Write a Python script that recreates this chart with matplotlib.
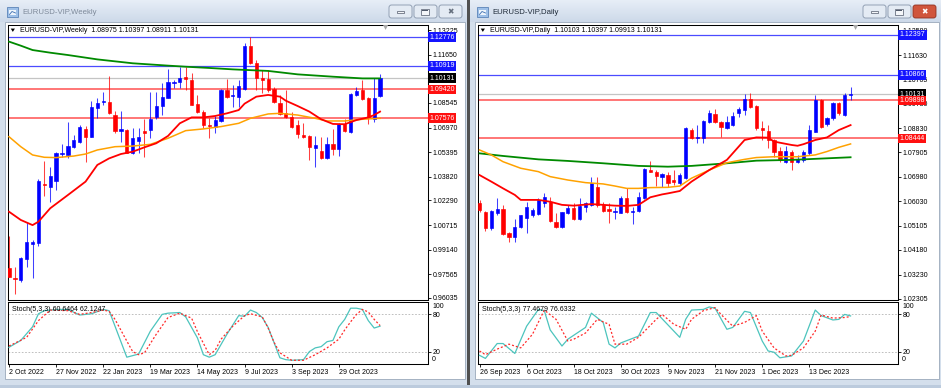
import numpy as np
import matplotlib
matplotlib.use('Agg')
import matplotlib.pyplot as plt
from matplotlib.patches import Rectangle, FancyBboxPatch, Polygon
from matplotlib.colors import to_rgb

plt.rcParams['font.family'] = ['Liberation Sans', 'DejaVu Sans']

# ---------------------------------------------------------------- data ----
wk_title = "EURUSD-VIP,Weekly"
wk_header = "EURUSD-VIP,Weekly  1.08975 1.10397 1.08911 1.10131"
wk_stoch_label = "Stoch(5,3,3) 60.6464 62.1247"
wk_open = [0.9797,0.9734,0.9719,0.9855,0.9950,0.9958,1.0336,1.0318,1.0354,1.0525,
           1.0521,1.0574,1.0606,1.0688,1.0634,1.0820,1.0859,1.0863,1.0777,1.0674,
           1.0681,1.0536,1.0613,1.0674,1.0681,1.0762,1.0835,1.0888,1.0980,1.0987,
           1.1019,1.1002,1.0848,1.0799,1.0713,1.0703,1.0741,1.0938,1.0899,1.0895,
           1.0942,1.1220,1.1113,1.1012,1.1006,1.0942,1.0857,1.0792,1.0762,1.0713,
           1.0649,1.0643,1.0563,1.0548,1.0499,1.0589,1.0559,1.0718,1.0670,1.0906,
           1.0938,1.0884,1.0750,1.08975]
wk_high = [0.9999,0.9800,0.9869,1.0090,0.9976,1.0364,1.0481,1.0446,1.0542,1.0591,
           1.0730,1.0649,1.0713,1.0707,1.0867,1.0884,1.0927,1.1030,1.0803,1.0803,
           1.0685,1.0692,1.0692,1.0752,1.0927,1.0927,1.0980,1.1072,1.1002,1.1087,
           1.1083,1.1045,1.0906,1.0809,1.0756,1.0771,1.0942,1.1006,1.0970,1.1002,
           1.1237,1.1276,1.1130,1.1066,1.1066,1.0959,1.0906,1.0938,1.0799,1.0745,
           1.0728,1.0649,1.0643,1.0634,1.0638,1.0685,1.0724,1.0750,1.0916,1.0959,
           1.1002,1.0895,1.1012,1.10397]
wk_low = [0.9736,0.9632,0.9708,0.9805,0.9730,0.9935,1.0260,1.0221,1.0296,1.0510,
          1.0499,1.0563,1.0600,1.0478,1.0634,1.0756,1.0841,1.0784,1.0660,1.0606,
          1.0532,1.0527,1.0532,1.0510,1.0628,1.0750,1.0777,1.0884,1.0948,1.0948,
          1.0938,1.0841,1.0788,1.0692,1.0628,1.0660,1.0735,1.0884,1.0831,1.0831,
          1.0938,1.1104,1.0938,1.0916,1.0927,1.0852,1.0777,1.0756,1.0692,1.0628,
          1.0628,1.0489,1.0446,1.0493,1.0493,1.0521,1.0514,1.0670,1.0660,1.0899,
          1.0874,1.0720,1.0735,1.08911]
wk_close = [0.9741,0.9723,0.9858,0.9965,0.9962,1.0354,1.0326,1.0386,1.0536,1.0532,
            1.0581,1.0617,1.0703,1.0638,1.0831,1.0852,1.0867,1.0788,1.0674,1.0688,
            1.0536,1.0632,1.0638,1.0660,1.0752,1.0835,1.0891,1.0991,1.0991,1.1012,
            1.1010,1.0841,1.0799,1.0713,1.0705,1.0745,1.0938,1.0895,1.0906,1.0963,
            1.1220,1.1113,1.1012,1.1002,1.0938,1.0863,1.0784,1.0767,1.0698,1.0655,
            1.0638,1.0570,1.0585,1.0499,1.0591,1.0559,1.0720,1.0677,1.0910,1.0931,
            1.0878,1.0762,1.0884,1.10131]
wk_ma_red_i = [0,2,4,5,7,10,13,15,17,19,21,23,25,27,29,31,33,35,37,39,40,42,44,46,47,49,51,53,55,57,59,61,62,63]
wk_ma_red_v = [1.0157,1.0104,1.0071,1.0093,1.0179,1.0264,1.0350,1.0457,1.0499,1.0527,1.0542,1.0570,
               1.0596,1.0643,1.0724,1.0762,1.0762,1.0771,1.0788,1.0809,1.0850,1.0895,1.0906,1.0895,
               1.0869,1.0835,1.0799,1.0750,1.0720,1.0718,1.0745,1.0762,1.0777,1.0799]
wk_ma_orange_i = [0,2,4,6,8,11,13,15,18,21,24,27,30,33,36,39,41,44,46,49,52,54,57,60,63]
wk_ma_orange_v = [1.0638,1.0574,1.0521,1.0506,1.0504,1.0514,1.0527,1.0553,1.0574,1.0578,1.0589,1.0628,
                  1.0677,1.0688,1.0703,1.0724,1.0756,1.0784,1.0788,1.0777,1.0756,1.0739,1.0739,1.0750,1.0756]
wk_ma_green_i = [0,2,4,7,10,15,21,27,30,34,38,44,49,55,60,63]
wk_ma_green_v = [1.1248,1.1222,1.1194,1.1177,1.1162,1.1134,1.1109,1.1094,1.1087,1.1079,1.1070,1.1060,
                 1.1038,1.1023,1.1012,1.1012]
wk_k_i = [0,2,4,5,6,8,10,12,14,16,17,20,22,24,26,27,29,30,32,33,34,35,37,39,40,41,42,43,44,46,47,48,50,51,52,53,54,55,56,57,58,59,60,61,62,63]
wk_k_v = [27,38,60,81,86,88,88,79,81,88,86,11,16,53,80,82,83,76,42,15,11,15,48,78,77,87,83,75,59,10,7,6,7,20,26,28,36,38,60,72,90,90,88,70,58,61]
wk_d_i = [0,3,5,7,10,12,14,16,17,18,20,21,22,23,25,27,29,31,32,34,35,36,38,40,41,43,44,45,46,48,50,52,54,55,56,57,58,59,60,61,62,63]
wk_d_v = [29,43,70,87,86,80,83,87,85,72,37,20,15,18,48,75,82,74,52,15,22,40,61,78,81,76,58,35,18,6,6,15,26,33,40,55,68,80,88,84,72,62]
wk_levels = [(1.12776, 'blue'), (1.10919, 'blue'), (1.09420, 'red'), (1.07576, 'red')]
wk_price = 1.10131
wk_yticks = [1.13225,1.11650,1.08545,1.06970,1.05395,1.03820,1.02290,1.00715,0.99140,0.97565,0.96035]
wk_xtick_i = [0,8,16,24,32,40,48,56]
wk_xtick_lab = ["2 Oct 2022","27 Nov 2022","22 Jan 2023","19 Mar 2023","14 May 2023","9 Jul 2023","3 Sep 2023","29 Oct 2023"]

d_title = "EURUSD-VIP,Daily"
d_header = "EURUSD-VIP,Daily  1.10103 1.10397 1.09913 1.10131"
d_stoch_label = "Stoch(5,3,3) 77.4679 76.6332"
d_open = [1.0596,1.0564,1.0500,1.0560,1.0573,1.0481,1.0466,1.0507,1.0539,1.0551,
          1.0555,1.0598,1.0602,1.0526,1.0507,1.0560,1.0577,1.0535,1.0583,1.0590,
          1.0660,1.0590,1.0573,1.0564,1.0560,1.0615,1.0564,1.0568,1.0615,1.0723,
          1.0714,1.0695,1.0704,1.0685,1.0672,1.0692,1.0876,1.0844,1.0844,1.0908,
          1.0938,1.0908,1.0883,1.0895,1.0940,1.0953,1.0994,1.0968,1.0885,1.0873,
          1.0838,1.0797,1.0755,1.0794,1.0755,1.0762,1.0787,1.0870,1.0991,1.08975,
          1.0921,1.0981,1.0934,1.10103]
d_high = [1.0609,1.0568,1.0570,1.0615,1.0588,1.0488,1.0536,1.0552,1.0602,1.0577,
          1.0615,1.0637,1.0621,1.0560,1.0564,1.0590,1.0596,1.0615,1.0602,1.0695,
          1.0698,1.0602,1.0596,1.0583,1.0624,1.0653,1.0583,1.0641,1.0730,1.0759,
          1.0723,1.0713,1.0717,1.0723,1.0711,1.0889,1.0883,1.0895,1.0915,1.0953,
          1.0955,1.0910,1.0930,1.0946,1.0966,1.1013,1.1017,1.0972,1.0911,1.0895,
          1.0841,1.0813,1.0815,1.0800,1.0781,1.0800,1.0895,1.1010,1.0994,1.0927,
          1.0985,1.0983,1.1017,1.10397]
d_low = [1.0564,1.0490,1.0494,1.0551,1.0475,1.0449,1.0449,1.0500,1.0484,1.0545,
         1.0551,1.0583,1.0525,1.0500,1.0500,1.0555,1.0532,1.0532,1.0564,1.0587,
         1.0583,1.0564,1.0522,1.0535,1.0558,1.0558,1.0516,1.0564,1.0611,1.0714,
         1.0662,1.0660,1.0660,1.0666,1.0666,1.0689,1.0841,1.0825,1.0825,1.0902,
         1.0902,1.0851,1.0880,1.0893,1.0927,1.0934,1.0959,1.0876,1.0838,1.0806,
         1.0774,1.0755,1.0749,1.0723,1.0749,1.0755,1.0781,1.0867,1.0883,1.0892,
         1.0915,1.0934,1.0930,1.09913]
d_close = [1.0570,1.0503,1.0567,1.0573,1.0479,1.0468,1.0507,1.0551,1.0583,1.0570,
           1.0609,1.0619,1.0528,1.0507,1.0562,1.0577,1.0535,1.0587,1.0596,1.0672,
           1.0590,1.0568,1.0568,1.0567,1.0618,1.0564,1.0568,1.0621,1.0727,1.0717,
           1.0700,1.0708,1.0672,1.0679,1.0704,1.0883,1.0844,1.0851,1.0911,1.0940,
           1.0908,1.0889,1.0908,1.0930,1.0955,1.0994,1.0966,1.0883,1.0876,1.0838,
           1.0794,1.0762,1.0796,1.0755,1.0767,1.0794,1.0876,1.0991,1.0889,1.0921,
           1.0981,1.0940,1.1010,1.10131]
d_ma_red_i = [0,2,4,6,7,10,12,14,16,19,21,23,25,27,29,31,32,34,36,39,42,45,47,49,50,53,54,55,57,59,61,63]
d_ma_red_v = [1.0704,1.0679,1.0653,1.0628,1.0609,1.0609,1.0602,1.0590,1.0587,1.0593,1.0590,1.0587,
              1.0586,1.0590,1.0619,1.0630,1.0634,1.0643,1.0679,1.0723,1.0762,1.0838,1.0848,1.0847,
              1.0832,1.0819,1.0816,1.0822,1.0838,1.0848,1.0876,1.0895]
d_ma_orange_i = [0,2,4,7,10,12,15,18,21,23,25,27,29,32,34,36,39,42,45,47,50,52,54,57,59,61,63]
d_ma_orange_v = [1.0800,1.0781,1.0755,1.0730,1.0717,1.0698,1.0685,1.0675,1.0670,1.0662,1.0653,1.0653,
                 1.0656,1.0657,1.0662,1.0692,1.0723,1.0751,1.0764,1.0771,1.0774,1.0774,1.0774,1.0781,
                 1.0794,1.0810,1.0823]
d_ma_green_i = [0,4,10,15,21,27,32,36,42,47,53,59,63]
d_ma_green_v = [1.0787,1.0777,1.0764,1.0758,1.0749,1.0739,1.0736,1.0739,1.0749,1.0759,1.0762,1.0768,1.0772]
d_k_i = [0,1,3,4,6,8,10,11,12,14,15,18,19,21,22,23,24,27,29,30,34,35,36,38,39,40,42,43,45,46,48,49,50,51,53,55,57,58,60,61,62,63]
d_k_v = [14,9,33,33,17,61,88,86,55,29,40,59,82,67,32,26,34,45,83,83,43,72,87,88,92,90,56,59,85,83,37,21,19,10,13,37,87,78,71,72,80,77.5]
d_d_i = [0,1,3,5,7,9,11,13,15,16,18,20,22,23,25,27,30,31,33,35,36,38,40,41,43,45,47,48,50,52,53,55,57,58,60,62,63]
d_d_v = [21,15,24,32,26,48,87,72,37,40,50,72,64,32,32,43,72,80,64,56,72,86,91,80,61,67,78,53,26,13,14,26,53,79,74,75,76.6]
d_levels = [(1.12397, 'blue'), (1.10866, 'blue'), (1.09898, 'red'), (1.08444, 'red')]
d_price = 1.10131
d_yticks = [1.12580,1.11630,1.10705,1.09780,1.08830,1.07905,1.06980,1.06030,1.05105,1.04180,1.03230,1.02305]
d_xtick_i = [0,8,16,24,32,40,48,56]
d_xtick_lab = ["26 Sep 2023","6 Oct 2023","18 Oct 2023","30 Oct 2023","9 Nov 2023","21 Nov 2023","1 Dec 2023","13 Dec 2023"]

# ------------------------------------------------------------- styling ----
W, H = 941, 388
BULL, BEAR = '#0000ff', '#ff0000'
LVL = {'blue': '#2b2bff', 'red': '#ff3333'}
BOX = {'blue': '#1414ff', 'red': '#ff1010'}
FS = 5.0

fig = plt.figure(figsize=(W / 100, H / 100), dpi=100)
fig.patch.set_facecolor('#cfdbea')

bg = fig.add_axes([0, 0, 1, 1])
bg.set_xlim(0, W)
bg.set_ylim(H, 0)
bg.axis('off')


def grad_rect(x0, y0, x1, y1, c_top, c_bot, n=22):
    a, b = np.array(to_rgb(c_top)), np.array(to_rgb(c_bot))
    hgt = (y1 - y0) / n
    for k in range(n):
        t = k / (n - 1)
        bg.add_patch(Rectangle((x0, y0 + k * hgt), x1 - x0, hgt + 0.3,
                               fc=a * (1 - t) + b * t, ec='none', zorder=1))


def window(x0, x1, title, active):
    grad_rect(x0, 0, x1, 22, '#e6edf6', '#cdd9e9')
    bg.add_patch(Rectangle((x0, 22), x1 - x0, H - 22, fc='#d4dfec', ec='none', zorder=1))
    bg.add_patch(Rectangle((x0 + 5, 22), x1 - x0 - 7, 357, fc='white', ec='#9aa8ba', lw=0.6, zorder=2))
    # icon
    bg.add_patch(Rectangle((x0 + 7, 7), 11, 10, fc='#9ec0e8', ec='#5b84b8', lw=0.6, zorder=3))
    bg.add_patch(Rectangle((x0 + 9, 10), 7, 5, fc='#eef5fc', ec='none', zorder=3))
    bg.plot([x0 + 9.5, x0 + 12, x0 + 15.5], [14.5, 11.5, 13], color='#3b6db0', lw=0.6, zorder=4)
    bg.text(x0 + 22, 12.5, title, fontsize=5.6, va='center', ha='left',
            color='#1e2a38' if active else '#7e8a9a', zorder=4)
    # buttons
    bx = [x1 - 78, x1 - 53, x1 - 28]
    for k, b in enumerate(bx):
        fc = '#e4ebf4'
        ec = '#8796ab'
        if k == 2 and active:
            fc, ec = '#d0553c', '#8e3020'
        bg.add_patch(FancyBboxPatch((b, 5), 23, 13, boxstyle='round,pad=0,rounding_size=2.5',
                                    fc=fc, ec=ec, lw=0.6, zorder=3))
    bg.add_patch(Rectangle((bx[0] + 8, 11), 7, 2, fc='#f4f6f9', ec='#50596a', lw=0.5, zorder=4))
    bg.add_patch(Rectangle((bx[1] + 7.5, 8.5), 8, 6, fc='#f4f6f9', ec='#50596a', lw=0.5, zorder=4))
    bg.add_patch(Rectangle((bx[1] + 8.5, 9.5), 6, 1.3, fc='#50596a', ec='none', zorder=4))
    xcol = 'white' if active else '#66707e'
    bg.text(bx[2] + 11.5, 11.7, '\u2716' if active else '\u2716', fontsize=5.5, color=xcol,
            ha='center', va='center', family='DejaVu Sans', zorder=4)


window(0, 467, wk_title, False)
window(470, 941, d_title, True)
bg.add_patch(Rectangle((467.5, 0), 2.2, H, fc='#505050', ec='none', zorder=5))
bg.add_patch(Rectangle((0, 385), W, 3, fc='#bccbdd', ec='none', zorder=5))


def ax_px(x0, y0, x1, y1):
    a = fig.add_axes([x0 / W, 1 - y1 / H, (x1 - x0) / W, (y1 - y0) / H])
    a.set_facecolor('white')
    for s in a.spines.values():
        s.set_linewidth(0.75)
        s.set_color('black')
    return a


def candles(ax, o, h, l, c):
    o, h, l, c = map(np.asarray, (o, h, l, c))
    x = np.arange(len(o))
    col = np.where(c >= o, BULL, BEAR)
    ax.vlines(x, l, h, colors=col, lw=0.75, alpha=0.75, zorder=3)
    ax.bar(x, np.abs(c - o), bottom=np.minimum(o, c), width=0.55, color=col,
           edgecolor=col, linewidth=0.45, zorder=4)


def main_panel(ax, o, h, l, c, mas, levels, price, yticks, ylim, xlim, header):
    ax.set_xlim(*xlim)
    ax.set_ylim(*ylim)
    ax.set_xticks([])
    ax.yaxis.tick_right()
    ax.set_yticks(yticks, [f'{v:.5f}' for v in yticks])
    ax.tick_params(axis='y', length=2.2, width=0.6, pad=1.2, labelsize=FS, colors='black')
    for lv, kind in levels:
        ax.axhline(lv, color=LVL[kind], lw=0.9 if kind == 'blue' else 1.1, alpha=0.85, zorder=2)
    ax.axhline(price, color='#c4c4c4', lw=0.9, zorder=2)
    candles(ax, o, h, l, c)
    for (idx, vals, col, lw) in mas:
        ax.plot(idx, vals, color=col, lw=lw, zorder=5, solid_joinstyle='round')
    tr = ax.get_yaxis_transform()
    boxes = [(lv, BOX[k]) for lv, k in levels[:2]] + [(price, 'black')] + [(lv, BOX[k]) for lv, k in levels[2:]]
    for lv, fc in boxes:
        ax.text(1.004, lv, f'{lv:.5f}', transform=tr, fontsize=FS, color='white', va='center',
                ha='left', clip_on=False, zorder=10,
                bbox=dict(boxstyle='square,pad=0.18', fc=fc, ec='none'))
    ax.add_patch(Polygon([(0.0065, 0.987), (0.0165, 0.987), (0.0115, 0.975)], closed=True,
                         transform=ax.transAxes, fc='black', ec='none', zorder=10))
    ax.text(0.0285, 0.981, header, transform=ax.transAxes, fontsize=FS, va='center', ha='left',
            color='black', zorder=10)
    ax.add_patch(Polygon([(0.893, 1.0), (0.905, 1.0), (0.899, 0.982)], closed=True,
                         transform=ax.transAxes, fc='#a8a8a8', ec='none', zorder=10, clip_on=False))


def stoch_panel(ax, ki, kv, di, dv, xlim, xt, xl, label):
    ax.set_xlim(*xlim)
    ax.set_ylim(0, 100)
    ax.yaxis.tick_right()
    ax.set_yticks([80, 20], ['80', '20'])
    ax.tick_params(axis='y', length=2.2, width=0.6, pad=1.2, labelsize=FS)
    ax.set_xticks(xt, xl)
    ax.tick_params(axis='x', length=2.2, width=0.6, pad=1.2, labelsize=FS)
    for t in ax.get_xticklabels():
        t.set_ha('left')
    tr = ax.get_yaxis_transform()
    ax.text(1.0095, 92, '100', transform=tr, fontsize=FS, va='center', ha='left', clip_on=False)
    ax.text(1.0095, 8, '0', transform=tr, fontsize=FS, va='center', ha='left', clip_on=False)
    for lv in (80, 20):
        ax.axhline(lv, color='#b4b4b4', lw=0.6, ls=(0, (2, 2)), zorder=1)
    ax.plot(ki, kv, color='#4cc4bd', lw=0.9, zorder=3)
    ax.plot(di, dv, color='#ff2a2a', lw=0.9, ls=(0, (1.6, 1.6)), zorder=4)
    ax.text(0.0095, 0.88, label, transform=ax.transAxes, fontsize=FS, va='center', ha='left', zorder=5)


# ------------------------------------------------------------ weekly ----
axL = ax_px(8, 25, 428, 300)
axLs = ax_px(8, 302, 428, 364)
main_panel(axL, wk_open, wk_high, wk_low, wk_close,
           [(wk_ma_green_i, wk_ma_green_v, '#008a00', 1.3),
            (wk_ma_orange_i, wk_ma_orange_v, '#ffa200', 1.1),
            (wk_ma_red_i, wk_ma_red_v, '#ff0000', 1.3)],
           wk_levels, wk_price, wk_yticks, (0.95906, 1.13546), (-0.17, 71.14), wk_header)
stoch_panel(axLs, wk_k_i, wk_k_v, wk_d_i, wk_d_v, (-0.17, 71.14), wk_xtick_i, wk_xtick_lab, wk_stoch_label)

# ------------------------------------------------------------- daily ----
axR = ax_px(478, 25, 898, 300)
axRs = ax_px(478, 302, 898, 364)
main_panel(axR, d_open, d_high, d_low, d_close,
           [(d_ma_green_i, d_ma_green_v, '#008a00', 1.3),
            (d_ma_orange_i, d_ma_orange_v, '#ffa200', 1.1),
            (d_ma_red_i, d_ma_red_v, '#ff0000', 1.3)],
           d_levels, d_price, d_yticks, (1.02262, 1.12778), (-0.255, 71.05), d_header)
stoch_panel(axRs, d_k_i, d_k_v, d_d_i, d_d_v, (-0.255, 71.05), d_xtick_i, d_xtick_lab, d_stoch_label)

fig.savefig('out.png', dpi=100)
